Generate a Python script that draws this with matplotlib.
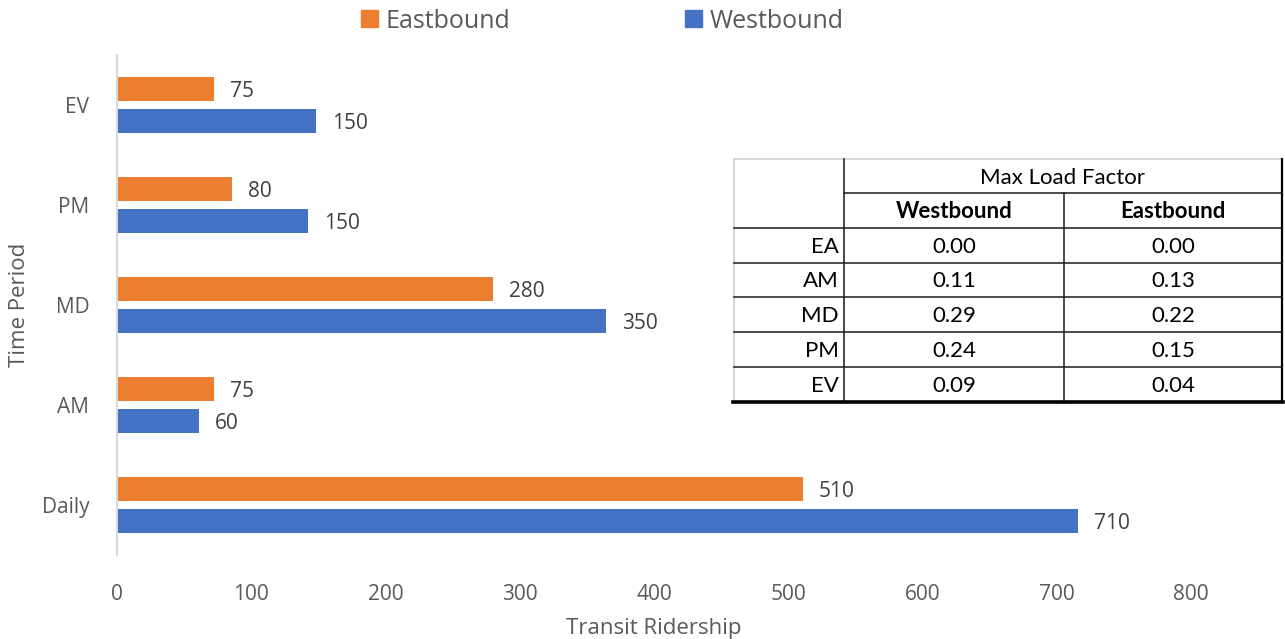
import matplotlib
matplotlib.use("Agg")
import matplotlib.pyplot as plt
from matplotlib.patches import Patch, Rectangle

# ---- data ----
categories = ["Daily", "AM", "MD", "PM", "EV"]
eastbound = [511, 72, 280, 86, 72]
westbound = [716, 61, 364, 142, 148]
east_labels = ["510", "75", "280", "80", "75"]
west_labels = ["710", "60", "350", "150", "150"]
x_ticks = [0, 100, 200, 300, 400, 500, 600, 700, 800]

table_title = "Max Load Factor"
table_cols = ["Westbound", "Eastbound"]
table_rows = ["EA", "AM", "MD", "PM", "EV"]
table_west = ["0.00", "0.11", "0.29", "0.24", "0.09"]
table_east = ["0.00", "0.13", "0.22", "0.15", "0.04"]

ORANGE = "#ED7D31"
BLUE = "#4472C4"
GRAY = "#595959"
DARK = "#404040"
FONT = "Open Sans"
TFONT = "Lato"

plt.rcParams["font.family"] = [FONT, "DejaVu Sans"]

W, H = 1285, 639
fig = plt.figure(figsize=(W / 100, H / 100), dpi=100)
ax = fig.add_axes([117 / W, 1 - 555 / H, (1191 - 117) / W, (555 - 55) / H])

ys = list(range(len(categories)))
bh = 0.245
off = 0.158
ax.barh([y + off for y in ys], eastbound, height=bh, color=ORANGE, label="Eastbound")
ax.barh([y - off for y in ys], westbound, height=bh, color=BLUE, label="Westbound")

for y, v, lab in zip(ys, eastbound, east_labels):
    ax.annotate(lab, (v, y + off), xytext=(11.5, -1.8), textcoords="offset points",
                ha="left", va="center", fontsize=15, color=DARK)
for y, v, lab in zip(ys, westbound, west_labels):
    ax.annotate(lab, (v, y - off), xytext=(11.5, -1.8), textcoords="offset points",
                ha="left", va="center", fontsize=15, color=DARK)

ax.set_xlim(0, 800)
ax.set_ylim(-0.5, len(categories) - 0.5)
ax.set_xticks(x_ticks)
ax.set_xticklabels([str(t) for t in x_ticks])
ax.set_yticks(ys)
ax.set_yticklabels(categories)
ax.tick_params(axis="both", length=0, labelsize=15, labelcolor=GRAY)
ax.tick_params(axis="x", pad=21)
ax.tick_params(axis="y", pad=20)
for s in ["top", "right", "bottom"]:
    ax.spines[s].set_visible(False)
ax.spines["left"].set_color("#D9D9D9")
ax.spines["left"].set_linewidth(1.5)
ax.set_xlabel("Transit Ridership", fontsize=16, color=GRAY, labelpad=9)
ax.set_ylabel("Time Period", fontsize=16, color=GRAY, labelpad=8)

handles = [Patch(color=ORANGE, label="Eastbound"), Patch(color=BLUE, label="Westbound")]
fig.legend(handles=handles, loc="center", bbox_to_anchor=(602 / W, 1 - 21 / H), ncol=2,
           frameon=False, fontsize=18, labelcolor=GRAY, handlelength=0.68,
           handleheight=0.68, handletextpad=0.3, columnspacing=7.0)

# ---- table overlay (pixel coordinates) ----
ov = fig.add_axes([0, 0, 1, 1], zorder=5)
ov.set_xlim(0, W)
ov.set_ylim(H, 0)
ov.axis("off")
ov.patch.set_alpha(0)

xs = [734, 844, 1064, 1282]
rows_y = [159, 193, 228, 262.5, 297, 332, 366.5, 401.5]
LC = "#1a1a1a"
ov.add_patch(Rectangle((xs[0], rows_y[0]), xs[3] - xs[0], rows_y[-1] - rows_y[0],
                       facecolor="white", edgecolor="none"))
# light outer top/left
ov.plot([xs[0], xs[3]], [rows_y[0], rows_y[0]], color="#D0D0D0", lw=1.2)
ov.plot([xs[0], xs[0]], [rows_y[0], rows_y[-1]], color="#D0D0D0", lw=1.2)
# header sub-line
ov.plot([xs[1], xs[3]], [rows_y[1], rows_y[1]], color=LC, lw=1.1)
for yy in rows_y[2:-1]:
    ov.plot([xs[0], xs[3]], [yy, yy], color=LC, lw=1.1)
ov.plot([xs[1], xs[1]], [rows_y[0], rows_y[-1]], color=LC, lw=1.1)
ov.plot([xs[2], xs[2]], [rows_y[1], rows_y[-1]], color=LC, lw=1.1)
ov.plot([xs[3], xs[3]], [rows_y[0], rows_y[-1]], color="black", lw=1.6)
ov.plot([xs[0] - 1, xs[3] + 1], [rows_y[-1], rows_y[-1]], color="black", lw=2.6)

TS = 16
tkw = dict(family=[TFONT, "DejaVu Sans"], color="black", va="center")
ov.text((xs[1] + xs[3]) / 2, (rows_y[0] + rows_y[1]) / 2 + 1.5, table_title,
        fontsize=TS, ha="center", **tkw)
for i, c in enumerate(table_cols):
    ov.text((xs[1 + i] + xs[2 + i]) / 2, (rows_y[1] + rows_y[2]) / 2 + 1.5, c,
            fontsize=TS, ha="center", fontweight="bold", **tkw)
for r, (lab, wv, ev) in enumerate(zip(table_rows, table_west, table_east)):
    yc = (rows_y[2 + r] + rows_y[3 + r]) / 2 + 1.5
    ov.text(xs[1] - 5, yc, lab, fontsize=TS, ha="right", **tkw)
    ov.text((xs[1] + xs[2]) / 2, yc, wv, fontsize=TS, ha="center", **tkw)
    ov.text((xs[2] + xs[3]) / 2, yc, ev, fontsize=TS, ha="center", **tkw)

fig.savefig("out.png", dpi=100)
